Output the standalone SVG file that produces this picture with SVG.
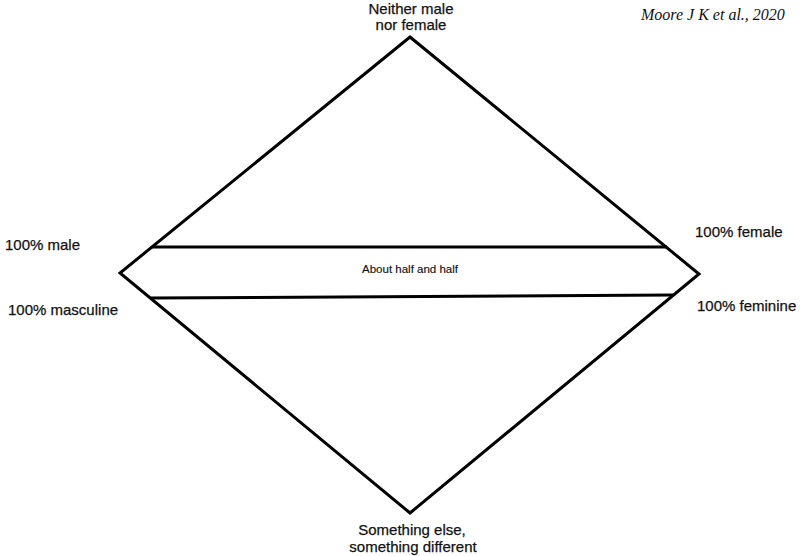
<svg xmlns="http://www.w3.org/2000/svg" width="800" height="556" viewBox="0 0 800 556">
<style>
.s{fill:none;stroke:#000;stroke-width:3;stroke-linejoin:miter}
.t{font-family:"Liberation Sans",Arial,sans-serif;font-size:15px;fill:#111;stroke:#111;stroke-width:0.25}
.c{text-anchor:middle}
.ref{font-family:"Liberation Serif","Times New Roman",serif;font-style:italic;font-size:16px;fill:#111}
</style>
<rect width="800" height="556" fill="#fff"/>
<g id="connectors">
<polygon class="s" points="410,37 699,274 410,513 120,273"/>
<line class="s" x1="152" y1="247" x2="667" y2="247"/>
<line class="s" x1="151" y1="298" x2="673" y2="295"/>
</g>
<g id="top"><text class="t c" x="411" y="14">Neither male</text><text class="t c" x="411" y="30">nor female</text></g>
<g id="bottom"><text class="t c" x="412" y="535">Something else,</text><text class="t c" x="413" y="552">something different</text></g>
<g id="male"><text class="t" x="5" y="250">100% male</text></g>
<g id="masculine"><text class="t" x="8" y="315">100% masculine</text></g>
<g id="female"><text class="t" x="695" y="237">100% female</text></g>
<g id="feminine"><text class="t" x="697" y="311">100% feminine</text></g>
<g id="middle"><text class="t c" x="410" y="273" style="font-size:11.5px;stroke-width:0.15">About half and half</text></g>
<text class="ref" x="641" y="20">Moore J K et al., 2020</text>
</svg>
